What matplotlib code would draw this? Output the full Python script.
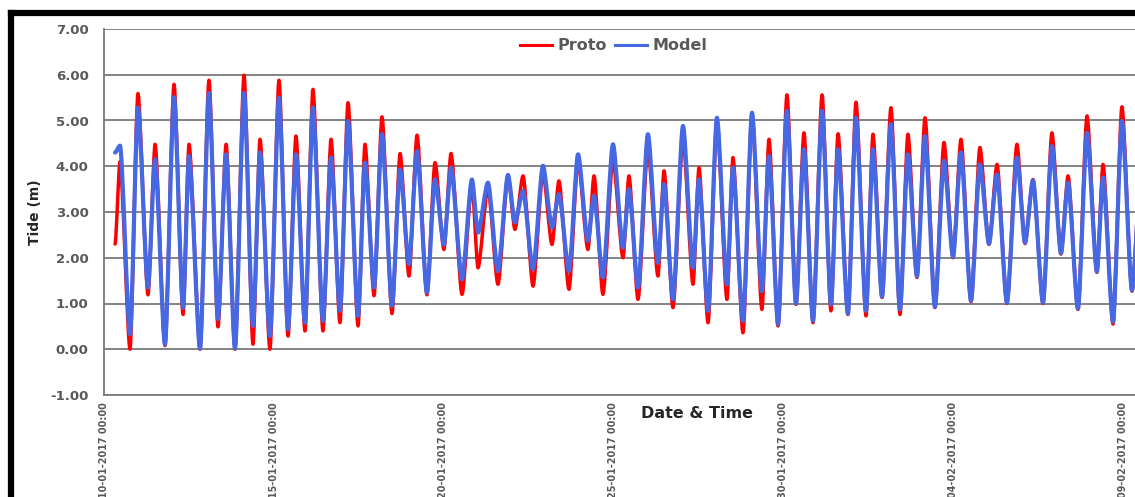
import matplotlib
matplotlib.use("Agg")
import matplotlib.pyplot as plt
import matplotlib.dates as mdates
from matplotlib.lines import Line2D
from matplotlib.path import Path
from matplotlib.patches import PathPatch
import pandas as pd

# ---- data: tidal extrema (hours since 10-01-2017 00:00) ----
hours = [7.8, 11.3, 18.4, 24.0, 31.1, 36.1, 43.1, 49.5, 55.9, 60.1, 67.9, 74.2,
         80.6, 86.3, 92.6, 99.0, 105.3, 110.3, 117.3, 123.7, 130.1, 135.7, 142.1,
         147.7, 154.8, 160.5, 166.8, 172.5, 179.6, 184.5, 190.9, 196.5, 203.6,
         209.3, 215.6, 221.3, 228.3, 234.0, 240.3, 245.3, 253.1, 260.1, 264.4,
         271.4, 278.5, 285.6, 290.5, 296.2, 303.3, 310.3, 316.7, 321.6, 328.7,
         335.1, 342.1, 346.4, 352.7, 359.8, 366.9, 371.1, 377.5, 384.5, 391.6,
         395.9, 402.2, 409.3, 416.4, 420.6, 427.0, 433.3, 440.4, 444.6, 451.7,
         458.1, 465.1, 470.1, 476.5, 482.8, 489.2, 494.8, 501.2, 507.6, 513.9,
         518.9, 525.9, 531.6, 538.7, 543.6, 550.0, 556.3, 562.7, 568.3, 574.7,
         580.4, 587.4, 593.8, 600.2, 605.8, 612.9, 619.2, 625.6, 631.3, 638.3,
         645.4, 651.1, 656.7, 663.8, 670.1, 676.5, 681.5, 688.5, 694.9, 701.9,
         706.2, 713.3, 719.6, 726.7, 733.1]

proto = [2.30, 4.10, 0.00, 5.59, 1.19, 4.48, 0.08, 5.79, 0.76, 4.48, 0.00, 5.88,
         0.49, 4.48, 0.00, 5.99, 0.11, 4.59, 0.00, 5.88, 0.29, 4.66, 0.40,
         5.68, 0.40, 4.59, 0.58, 5.39, 0.51, 4.48, 1.17, 5.08, 0.78,
         4.28, 1.60, 4.68, 1.19, 4.08, 2.18, 4.28, 1.20, 3.61, 1.78,
         3.53, 1.42, 3.79, 2.62, 3.79, 1.38, 3.86, 2.29, 3.68, 1.31,
         4.12, 2.18, 3.79, 1.20, 4.15, 2.00, 3.79, 1.09, 4.41, 1.60,
         3.90, 0.91, 4.62, 1.42, 3.97, 0.58, 4.99, 1.09, 4.19, 0.36,
         5.13, 0.87, 4.59, 0.51, 5.56, 0.98, 4.73, 0.58, 5.56, 0.84,
         4.71, 0.76, 5.40, 0.73, 4.70, 1.13, 5.28, 0.76, 4.70, 1.57,
         5.06, 0.91, 4.52, 2.00, 4.59, 1.04, 4.41, 2.29, 4.04, 1.00,
         4.48, 2.31, 3.71, 1.00, 4.73, 2.08, 3.79, 0.87, 5.10, 1.68,
         4.04, 0.55, 5.30, 1.27, 4.00]

model = [4.30, 4.45, 0.33, 5.28, 1.35, 4.15, 0.11, 5.51, 0.91, 4.22, 0.02, 5.60,
         0.66, 4.26, 0.02, 5.60, 0.51, 4.30, 0.29, 5.50, 0.44, 4.26, 0.58,
         5.28, 0.62, 4.19, 0.84, 4.99, 0.73, 4.08, 1.35, 4.70, 0.95,
         3.93, 1.86, 4.33, 1.24, 3.71, 2.29, 3.97, 1.53, 3.71, 2.55,
         3.64, 1.71, 3.81, 2.77, 3.46, 1.75, 4.01, 2.66, 3.39, 1.71,
         4.26, 2.37, 3.35, 1.57, 4.48, 2.22, 3.50, 1.35, 4.70, 1.89,
         3.61, 1.09, 4.88, 1.78, 3.71, 0.84, 5.06, 1.42, 3.97, 0.62,
         5.17, 1.27, 4.22, 0.55, 5.21, 1.00, 4.37, 0.62, 5.21, 0.98,
         4.37, 0.78, 5.06, 0.84, 4.37, 1.15, 4.92, 0.87, 4.26, 1.60,
         4.66, 0.93, 4.12, 2.02, 4.30, 1.06, 4.04, 2.31, 3.82, 1.02,
         4.19, 2.33, 3.69, 1.02, 4.44, 2.10, 3.64, 0.89, 4.73, 1.70,
         3.75, 0.60, 4.99, 1.29, 3.80]

series_names = ["Proto", "Model"]
yticks = [-1.0, 0.0, 1.0, 2.0, 3.0, 4.0, 5.0, 6.0, 7.0]
xtick_dates = ["2017-01-10", "2017-01-15", "2017-01-20", "2017-01-25",
               "2017-01-30", "2017-02-04", "2017-02-09"]

start = pd.Timestamp("2017-01-10 00:00")
times = start + pd.to_timedelta(hours, unit="h")

# ---- figure ----
W, H = 1135, 497
fig = plt.figure(figsize=(W / 100, H / 100), dpi=100)
ax = fig.add_axes([104 / W, 1 - 395 / H, 1 - 104 / W, (395 - 29) / H])
ax.xaxis_date()

FONT = "DejaVu Sans"
GRAY = "#595959"
RED = "#FF0000"
BLUE = "#4668E2"


def smooth_line(ax, t, v, color, lw, z, k=0.25):
    """Excel-style smoothed line: cubic Bezier segments through the points,
    with horizontal tangents at each given point."""
    x = mdates.date2num(t)
    verts = [(x[0], v[0])]
    codes = [Path.MOVETO]
    for i in range(len(x) - 1):
        d = x[i + 1] - x[i]
        verts += [(x[i] + k * d, v[i]), (x[i + 1] - k * d, v[i + 1]),
                  (x[i + 1], v[i + 1])]
        codes += [Path.CURVE4] * 3
    patch = PathPatch(Path(verts, codes), fill=False, edgecolor=color, lw=lw,
                      joinstyle="round", capstyle="round", zorder=z,
                      transform=ax.transData)
    ax.add_patch(patch)


smooth_line(ax, times, proto, RED, 2.5, 3)
smooth_line(ax, times, model, BLUE, 3.0, 4)

ax.set_ylim(-1, 7)
ax.set_xlim(start, start + pd.Timedelta(hours=(1135 - 104) / 33.95 * 24))
ax.set_yticks(yticks)
ax.set_yticklabels([f"{v:.2f}" for v in yticks], fontfamily=FONT,
                   fontweight="bold", fontsize=9.5, color=GRAY)
ax.yaxis.grid(True, color="#7a7a7a", lw=1.3, zorder=1)
ax.set_axisbelow(True)

ax.set_xticks([pd.Timestamp(d) for d in xtick_dates])
ax.xaxis.set_major_formatter(mdates.DateFormatter("%d-%m-%Y %H:%M"))
for lab in ax.get_xticklabels():
    lab.set_rotation(90)
    lab.set_fontfamily(FONT)
    lab.set_fontweight("bold")
    lab.set_fontsize(6.9)
    lab.set_color(GRAY)
    lab.set_va("top")
    lab.set_ha("center")

ax.tick_params(axis="both", length=0)
ax.tick_params(axis="y", pad=11)
ax.tick_params(axis="x", pad=5)

for s in ["top", "right"]:
    ax.spines[s].set_visible(False)
for s in ["left", "bottom"]:
    ax.spines[s].set_color("#7a7a7a")
    ax.spines[s].set_linewidth(1.3)

ax.set_ylabel("Tide (m)", fontfamily=FONT, fontweight="bold", fontsize=10,
              color="#262626", labelpad=6)

fig.text(697 / W, 1 - 413 / H, "Date & Time", fontfamily=FONT,
         fontweight="bold", fontsize=11.5, color="#262626",
         ha="center", va="center")

handles = [Line2D([], [], color=RED, lw=2.2), Line2D([], [], color=BLUE, lw=2.2)]
leg = ax.legend(handles, series_names, loc="center",
                bbox_to_anchor=(614 / W, 1 - 46 / H),
                bbox_transform=fig.transFigure, ncol=2, frameon=False,
                handlelength=2.0, handletextpad=0.35, columnspacing=0.5,
                prop={"family": FONT, "weight": "bold", "size": 11.5})
for t in leg.get_texts():
    t.set_color(GRAY)

# screenshot frame (black border at top and left)
fig.add_artist(Line2D([11 / W, 11 / W], [0, 1 - 13 / H], color="black",
                      lw=4.5, transform=fig.transFigure, solid_capstyle="projecting"))
fig.add_artist(Line2D([11 / W, 1], [1 - 13 / H, 1 - 13 / H], color="black",
                      lw=4.5, transform=fig.transFigure, solid_capstyle="projecting"))

fig.savefig("out.png", dpi=100)
